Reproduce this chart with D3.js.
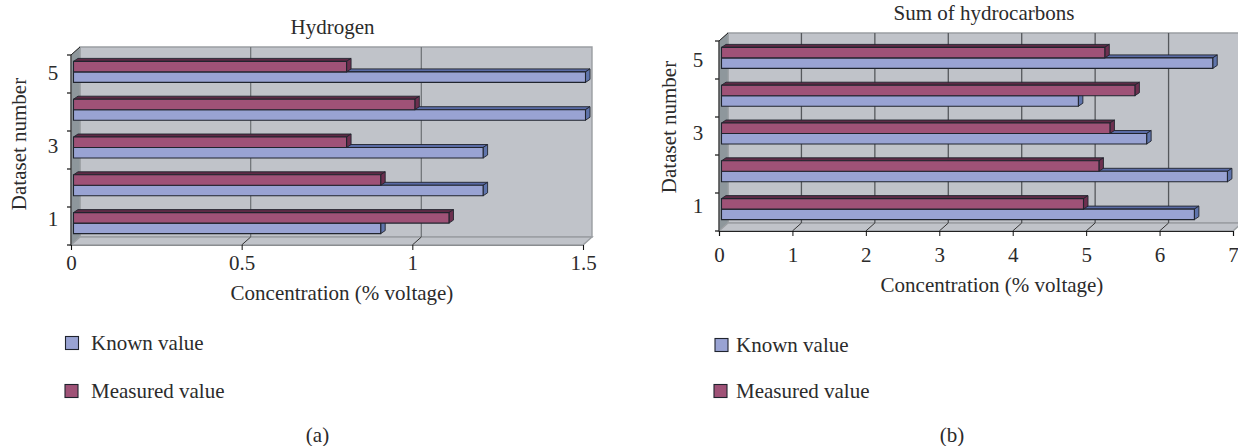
<!DOCTYPE html>
<html>
<head>
<meta charset="utf-8">
<style>
  html, body { margin: 0; padding: 0; background: #fff; overflow: hidden; }
  svg { display: block; }
  text { font-family: "Liberation Serif", serif; fill: #2b2b2b; font-size: 21px; }
</style>
<script src="https://cdn.jsdelivr.net/npm/d3@7/dist/d3.min.js"></script>
</head>
<body>
<svg id="chart" width="1238" height="446"></svg>
<script>
// Dataset numbers, top of the chart first
const datasets = ["5", "4", "3", "2", "1"];
const seriesNames = ["Known value", "Measured value"];

const hydrogenKnown = [1.5, 1.5, 1.2, 1.2, 0.9];
const hydrogenMeasured = [0.8, 1.0, 0.8, 0.9, 1.1];
const hydrogenTicks = [0, 0.5, 1, 1.5];

const hydrocarbonKnown = [6.69, 4.86, 5.79, 6.89, 6.44];
const hydrocarbonMeasured = [5.22, 5.63, 5.29, 5.14, 4.93];
const hydrocarbonTicks = [0, 1, 2, 3, 4, 5, 6, 7];

const COLOURS = {
  known: { front: "#99a3d3", top: "#5a6ba5", side: "#5f74ab" },
  measured: { front: "#9f5277", top: "#5e2a45", side: "#6d2f4f" },
  wall: "#c0c3c9", leftWall: "#8e979c", wallEdge: "#9a9ea2", edge: "#20242e",
};

const svg = d3.select("#chart");

function drawPanel(p) {
  const g = svg.append("g");
  const x = d3.scaleLinear().domain([0, p.ticks[p.ticks.length - 1]]).range([p.x0, p.x1]);
  // same scale shifted to the back wall / to where the bars start
  const xBack = (v) => x(v) + p.depth[0];
  const xBar = d3.scaleLinear().domain(x.domain()).range([p.x0 + 2.5, p.x1 + 2.5]);
  const yTicks = d3.scalePoint().domain(d3.range(6)).range([p.yFloor, p.yTop]);
  const yBars = d3.scaleBand().domain(datasets).range(p.barRange);
  const yLabels = d3.scaleBand().domain(datasets).range(p.labelRange);
  const backTop = p.yTop - p.depth[1], backFloor = p.yFloor - p.depth[1];

  const poly = (pts, fill, stroke, sw) => g.append("polygon")
    .attr("points", pts.map((d) => d.join(",")).join(" "))
    .attr("fill", fill).attr("stroke", stroke || "none").attr("stroke-width", sw || 0);

  // walls and floor
  poly([[xBack(0), backTop], [xBack(p.ticks[p.ticks.length - 1]), backTop],
        [xBack(p.ticks[p.ticks.length - 1]), backFloor], [xBack(0), backFloor]], COLOURS.wall, COLOURS.wallEdge, 1.4);
  poly([[x(0), p.yTop], [xBack(0), backTop], [xBack(0), backFloor], [x(0), p.yFloor]], COLOURS.leftWall, COLOURS.wallEdge, 1);
  poly([[x(0), p.yFloor], [xBack(0), backFloor], [xBack(p.ticks[p.ticks.length - 1]), backFloor],
        [x(p.ticks[p.ticks.length - 1]), p.yFloor]], COLOURS.wall, COLOURS.wallEdge, 1.4);

  // gridlines on the back wall, carried over the floor to the axis
  const inner = p.ticks.slice(1, -1);
  g.selectAll(".grid").data(inner).join("line")
    .attr("x1", xBack).attr("x2", xBack).attr("y1", backTop).attr("y2", backFloor)
    .attr("stroke", p.gridColour).attr("stroke-width", 1.3);
  g.selectAll(".floorTick").data(inner).join("line")
    .attr("x1", x).attr("x2", xBack).attr("y1", p.yFloor).attr("y2", backFloor)
    .attr("stroke", "#333").attr("stroke-width", 1);

  // bars: known first, measured on top of its top face
  datasets.forEach((d, i) => {
    const mid = yBars(d) + yBars.bandwidth() / 2;
    [[p.known[i], COLOURS.known, mid, mid + p.barH],
     [p.measured[i], COLOURS.measured, mid - p.barH, mid]].forEach(([v, c, y0, y1]) => {
      const xa = xBar(0), xb = xBar(v), dx = p.barDepth[0], dy = p.barDepth[1];
      poly([[xa, y0], [xa + dx, y0 - dy], [xb + dx, y0 - dy], [xb, y0]], c.top, COLOURS.edge, 0.9);
      poly([[xb, y0], [xb + dx, y0 - dy], [xb + dx, y1 - dy], [xb, y1]], c.side, COLOURS.edge, 0.9);
      poly([[xa, y0], [xb, y0], [xb, y1], [xa, y1]], c.front, COLOURS.edge, 1.1);
    });
  });

  // x axis
  const xAxis = g.append("g").attr("transform", `translate(0,${p.yFloor})`)
    .call(d3.axisBottom(x).tickValues(p.ticks).tickFormat((d) => String(d)).tickSize(5).tickPadding(p.tickPad));
  xAxis.select(".domain").attr("stroke", p.axisColour).attr("stroke-width", 1.2);
  xAxis.selectAll(".tick line").attr("stroke", "#111");
  xAxis.selectAll("text").attr("font-size", null).attr("fill", null);

  // y axis: tick marks on the category boundaries, labels on every other one
  g.selectAll(".yTick").data(yTicks.domain()).join("line")
    .attr("x1", x(0) - 4).attr("x2", x(0))
    .attr("y1", yTicks).attr("y2", yTicks).attr("stroke", "#111").attr("stroke-width", 1.2);
  g.append("line").attr("x1", x(0)).attr("x2", xBack(0)).attr("y1", p.yTop).attr("y2", backTop)
    .attr("stroke", "#222").attr("stroke-width", 1);
  g.append("line").attr("x1", x(0)).attr("x2", x(0)).attr("y1", p.yTop).attr("y2", p.yFloor)
    .attr("stroke", "#333").attr("stroke-width", 1.2);

  const yAxis = g.append("g").attr("transform", `translate(${p.labelX},0)`)
    .call(d3.axisLeft(yLabels).tickValues(["1", "3", "5"]).tickSize(0).tickPadding(0));
  yAxis.select(".domain").remove();
  yAxis.selectAll("text").attr("font-size", null).attr("fill", null).attr("text-anchor", "middle");

  // titles
  g.append("text").attr("x", p.titleX).attr("y", p.titleY).attr("text-anchor", "middle").text(p.title);
  g.append("text").attr("x", p.xTitleX).attr("y", p.xTitleY).attr("text-anchor", "middle").text("Concentration (% voltage)");
  g.append("text").attr("transform", `translate(${p.yTitleX},${p.yTitleY}) rotate(-90)`)
    .attr("text-anchor", "middle").text("Dataset number");
  g.append("text").attr("x", p.capX).attr("y", 442).attr("text-anchor", "middle").text(p.caption);

  // legend
  seriesNames.forEach((name, i) => {
    const c = i === 0 ? COLOURS.known : COLOURS.measured;
    const item = p.legend[i];
    g.append("rect").attr("x", item[0]).attr("y", item[1] - 6.5).attr("width", 13).attr("height", 13)
      .attr("fill", c.front).attr("stroke", COLOURS.edge).attr("stroke-width", 1.1);
    g.append("text").attr("x", p.legendTextX).attr("y", item[1]).attr("dy", "0.33em").text(name);
  });
}

drawPanel({
  title: "Hydrogen", caption: "(a)", known: hydrogenKnown, measured: hydrogenMeasured, ticks: hydrogenTicks,
  x0: 71, x1: 583, yFloor: 245, yTop: 55, depth: [9, 8], barDepth: [4.5, 3],
  barRange: [53, 242], barH: 10.5, labelRange: [55, 238], labelX: 53, tickPad: 5,
  gridColour: "#73777b", axisColour: "#8a8d90",
  titleX: 332.5, titleY: 34, xTitleX: 342, xTitleY: 300, yTitleX: 26, yTitleY: 144, capX: 317.5,
  legend: [[65.5, 343], [65, 391]], legendTextX: 91,
});

drawPanel({
  title: "Sum of hydrocarbons", caption: "(b)", known: hydrocarbonKnown, measured: hydrocarbonMeasured, ticks: hydrocarbonTicks,
  x0: 719, x1: 1233, yFloor: 231, yTop: 41, depth: [9, 8], barDepth: [4.5, 3],
  barRange: [39, 228], barH: 10.5, labelRange: [42, 225], labelX: 698, tickPad: 11,
  gridColour: "#55585c", axisColour: "#222",
  titleX: 984, titleY: 20, xTitleX: 992, xTitleY: 292, yTitleX: 676, yTitleY: 127, capX: 952,
  legend: [[715, 345], [714, 391]], legendTextX: 736,
});
</script>
</body>
</html>
